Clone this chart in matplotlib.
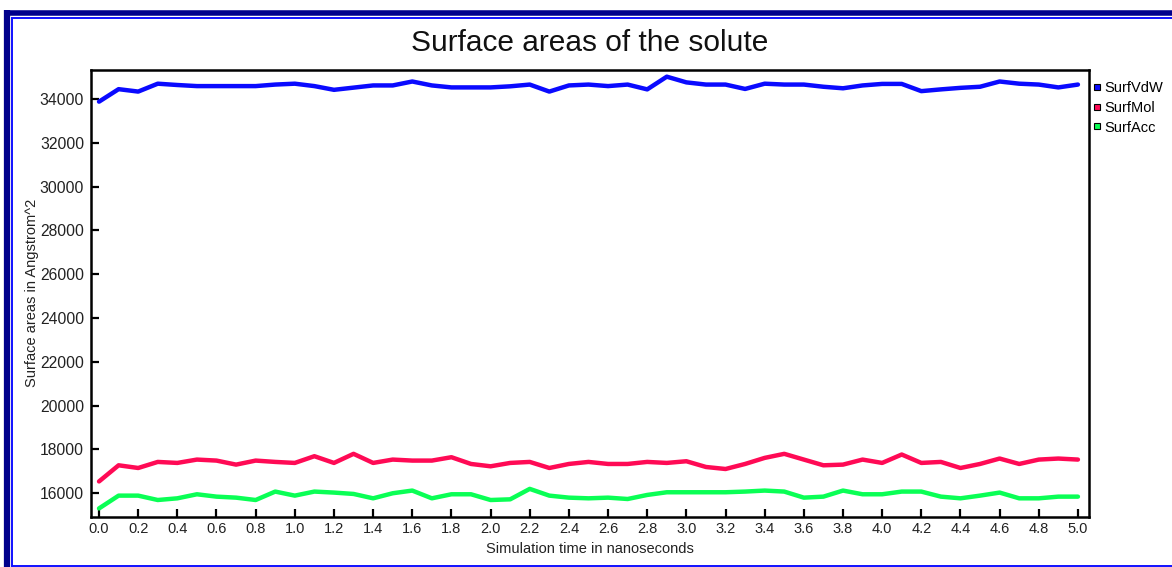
import matplotlib
matplotlib.use("Agg")
import matplotlib.pyplot as plt
from matplotlib.lines import Line2D
import numpy as np

# Simulation time (ns) sampled every 0.1 ns
time_ns = [round(0.1 * i, 1) for i in range(51)]

surf_vdw = [33880, 34450, 34340, 34700, 34640, 34590, 34590, 34590, 34590, 34660,
            34700, 34590, 34420, 34520, 34620, 34620, 34800, 34620, 34530, 34530,
            34530, 34580, 34660, 34340, 34620, 34660, 34590, 34660, 34440, 35020,
            34760, 34660, 34660, 34460, 34700, 34660, 34660, 34560, 34490, 34620,
            34690, 34690, 34360, 34440, 34510, 34560, 34800, 34700, 34660, 34530,
            34660]
surf_mol = [16540, 17277, 17154, 17431, 17385, 17538, 17492, 17308, 17492, 17431,
            17385, 17692, 17385, 17800, 17385, 17538, 17492, 17492, 17646, 17338,
            17231, 17385, 17431, 17154, 17338, 17431, 17338, 17338, 17431, 17385,
            17462, 17200, 17108, 17338, 17615, 17800, 17538, 17277, 17308, 17538,
            17385, 17769, 17385, 17431, 17154, 17338, 17585, 17338, 17538, 17585,
            17538]
surf_acc = [15308, 15892, 15892, 15692, 15769, 15954, 15846, 15800, 15692, 16077,
            15892, 16077, 16031, 15969, 15769, 16000, 16123, 15769, 15954, 15954,
            15692, 15723, 16200, 15892, 15800, 15769, 15800, 15738, 15923, 16046,
            16046, 16046, 16046, 16077, 16123, 16077, 15800, 15846, 16123, 15954,
            15954, 16077, 16077, 15846, 15769, 15892, 16031, 15769, 15769, 15846,
            15846]

series_names = ["SurfVdW", "SurfMol", "SurfAcc"]
series_values = [surf_vdw, surf_mol, surf_acc]
series_colors = ["#0a0aff", "#ff0a55", "#0aff55"]

x_ticks = [round(0.2 * i, 1) for i in range(26)]
y_ticks = list(range(16000, 34001, 2000))

W, H = 1172, 567
fig = plt.figure(figsize=(W / 100, H / 100), dpi=100)
plt.rcParams["font.family"] = ["Liberation Sans", "DejaVu Sans"]

# Frame around the chart: thick navy outer rule, thin blue inner rule
def hline(y, x0, x1, color, lw):
    fig.add_artist(Line2D([x0 / W, x1 / W], [1 - y / H, 1 - y / H],
                          color=color, lw=lw, solid_capstyle="butt"))

def vline(x, y0, y1, color, lw):
    fig.add_artist(Line2D([x / W, x / W], [1 - y0 / H, 1 - y1 / H],
                          color=color, lw=lw, solid_capstyle="butt"))

hline(12.5, 4, W, "#00008b", 4.0)
vline(7, 10, H, "#00008b", 4.5)
hline(18, 11, W, "#1010ff", 1.4)
vline(12, 17.5, H, "#1010ff", 1.4)
hline(566, 11, W, "#1010ff", 1.4)

ax = fig.add_axes([91 / W, 1 - 516.7 / H, (1088.7 - 91) / W, (516.7 - 70) / H])

for name, vals, col in zip(series_names, series_values, series_colors):
    ax.plot(time_ns, vals, color=col, lw=3.2, solid_joinstyle="round",
            solid_capstyle="round", label=name)

ax.set_xlim(-0.041, 5.055)
ax.set_ylim(14930, 35325)
ax.set_xticks(x_ticks)
ax.set_xticklabels([f"{t:.1f}" for t in x_ticks])
ax.set_yticks(y_ticks)
ax.tick_params(direction="in", length=6, width=1.6, labelsize=10.5,
               colors="black", labelcolor="#222222", pad=4)
ax.tick_params(axis="y", labelsize=11.3, pad=5)
for sp in ax.spines.values():
    sp.set_linewidth(1.8)

ax.set_title("Surface areas of the solute", fontsize=21.5, pad=14, color="#111111")
ax.set_xlabel("Simulation time in nanoseconds", fontsize=10.5, labelpad=4, color="#222222")
ax.set_ylabel("Surface areas in Angstrom^2", fontsize=10.5, labelpad=0.5, color="#222222")

handles = [Line2D([], [], marker="s", linestyle="none", markersize=5,
                  markerfacecolor=c, markeredgecolor="black", markeredgewidth=0.8)
           for c in series_colors]
ax.legend(handles, series_names, loc="upper left", bbox_to_anchor=(0.997, 0.992),
          frameon=False, fontsize=10.5, handlelength=0.6, handletextpad=0.15,
          borderaxespad=0.3, labelspacing=0.4, borderpad=0.2)

fig.savefig("out.png", dpi=100)
